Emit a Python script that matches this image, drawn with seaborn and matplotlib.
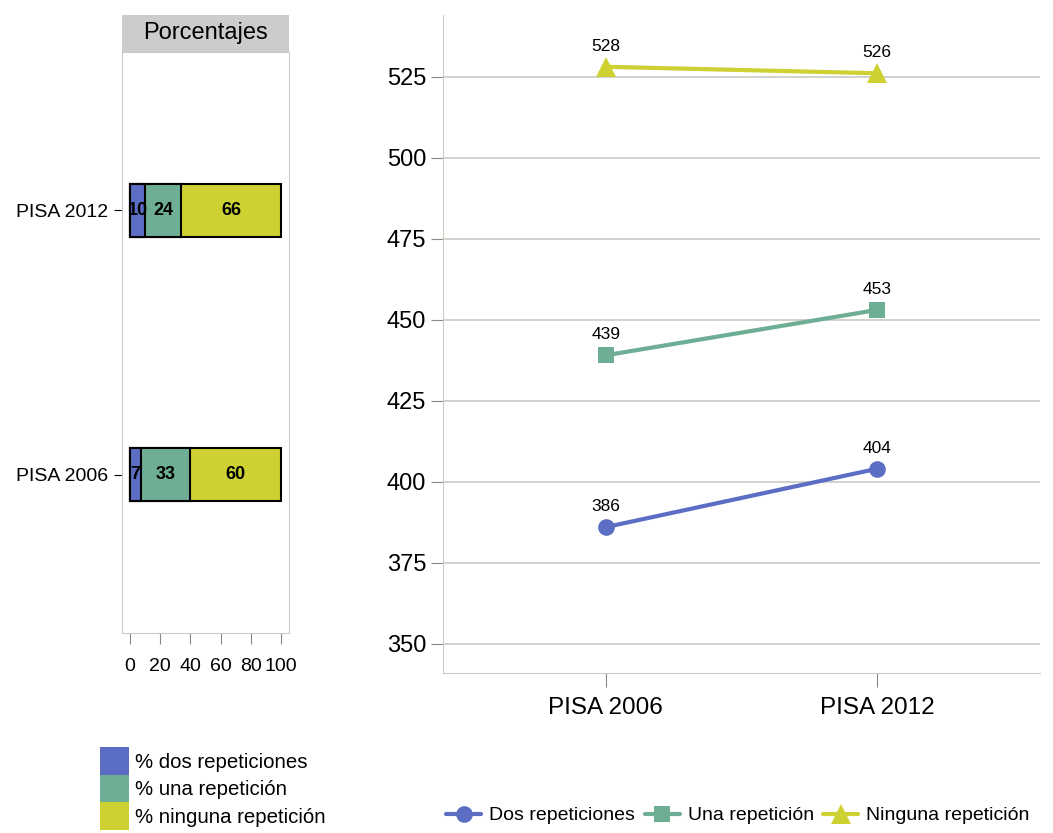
import matplotlib
matplotlib.use("Agg")
import matplotlib.pyplot as plt
from matplotlib.patches import Patch, Rectangle
from matplotlib.lines import Line2D
import pandas as pd
import seaborn as sns

sns.set_style("white")
plt.rcParams['font.family'] = ['Liberation Sans', 'DejaVu Sans']
plt.rcParams['text.color'] = 'black'
plt.rcParams['xtick.labelcolor'] = 'black'
plt.rcParams['ytick.labelcolor'] = 'black'

# data
years = ["PISA 2006", "PISA 2012"]
pct_dos = [7, 10]
pct_una = [33, 24]
pct_ninguna = [60, 66]
pct_labels = ["% dos repeticiones", "% una repetición", "% ninguna repetición"]

score_dos = [386, 404]
score_una = [439, 453]
score_ninguna = [528, 526]
series = ["Dos repeticiones", "Una repetición", "Ninguna repetición"]

colors = ["#5C6EC4", "#6DAE94", "#CDD132"]
markers = ["o", "s", "^"]
grey = "#CBCBC3"

fig = plt.figure(figsize=(10.53, 8.33), dpi=100)

# left: stacked percentages
ax1 = fig.add_axes([0.1159, 0.2401, 0.1586, 0.6975])
bars = pd.DataFrame({"year": years, "dos": pct_dos, "una": pct_una, "ninguna": pct_ninguna})
bars["c1"] = bars["dos"]
bars["c2"] = bars["dos"] + bars["una"]
bars["c3"] = bars["c2"] + bars["ninguna"]
order = ["PISA 2012", "PISA 2006"]
for col, c in zip(["c3", "c2", "c1"], colors[::-1]):
    sns.barplot(data=bars, x=col, y="year", order=order, orient="h", color=c,
                width=0.2, edgecolor="black", linewidth=1.5, saturation=1, ax=ax1)
for _, r in bars.iterrows():
    yi = order.index(r["year"])
    starts = [0, r["c1"], r["c2"]]
    for s, v in zip(starts, [r["dos"], r["una"], r["ninguna"]]):
        ax1.text(s + v / 2, yi, str(v), ha="center", va="center",
                 fontsize=13, fontweight="bold")
ax1.set_xlim(-5.3, 105.3)
ax1.set_ylim(1.6, -0.6)
ax1.set_xticks([0, 20, 40, 60, 80, 100])
ax1.set_xlabel("")
ax1.set_ylabel("")
for s in ax1.spines.values():
    s.set_color(grey)
ax1.tick_params(axis="x", length=8, color="#888888", labelsize=14, pad=10, bottom=True)
ax1.tick_params(axis="y", length=6, color="black", labelsize=14, pad=4, left=True)
ax1.add_patch(Rectangle((0, 1), 1, 0.064, transform=ax1.transAxes,
                        facecolor="#CCCCCC", edgecolor="none", clip_on=False))
ax1.text(0.5, 1.032, "Porcentajes", transform=ax1.transAxes, ha="center",
         va="center", fontsize=17)

# right: scores
ax2 = fig.add_axes([0.4207, 0.1921, 0.567, 0.790])
scores = pd.DataFrame({
    "year": years * 3,
    "score": score_dos + score_una + score_ninguna,
    "serie": [series[0]] * 2 + [series[1]] * 2 + [series[2]] * 2,
})
sns.lineplot(data=scores, x="year", y="score", hue="serie", style="serie",
             palette=colors, markers=markers, dashes=False, markersize=12,
             markeredgewidth=0, linewidth=3, legend=False, ax=ax2)
ax2.lines[2].set_markersize(15)
for _, r in scores.iterrows():
    ax2.text(years.index(r["year"]), r["score"] + 4, str(r["score"]),
             ha="center", va="bottom", fontsize=12.5)
ax2.set_xlim(-0.6, 1.6)
ax2.set_ylim(341, 544)
ax2.set_yticks([350, 375, 400, 425, 450, 475, 500, 525])
ax2.grid(axis="y", color=grey, linewidth=1.2)
ax2.set_xlabel("")
ax2.set_ylabel("")
for side in ["top", "right"]:
    ax2.spines[side].set_visible(False)
for side in ["left", "bottom"]:
    ax2.spines[side].set_color(grey)
ax2.tick_params(axis="y", length=9, color="#888888", labelsize=17, pad=3, left=True)
ax2.tick_params(axis="x", length=10, color="#888888", labelsize=17.5, pad=7, bottom=True)

# legends
h1 = [Patch(facecolor=c, edgecolor="none") for c in colors]
fig.legend(h1, pct_labels, loc="upper left", bbox_to_anchor=(0.095, 0.103),
           frameon=False, fontsize=14.7, handlelength=1.4, handleheight=1.7,
           labelspacing=0, handletextpad=0.3, borderpad=0, borderaxespad=0)
h2 = [Line2D([0], [0], color=c, marker=m, markersize=ms, linewidth=3,
             markeredgewidth=0) for c, m, ms in zip(colors, markers, [12, 12, 14])]
fig.legend(h2, series, loc="center left", bbox_to_anchor=(0.424, 0.021),
           frameon=False, fontsize=14, ncol=3, handlelength=1.8,
           columnspacing=0.5, handletextpad=0.4, borderpad=0, borderaxespad=0)

fig.savefig("out.png", dpi=100)
